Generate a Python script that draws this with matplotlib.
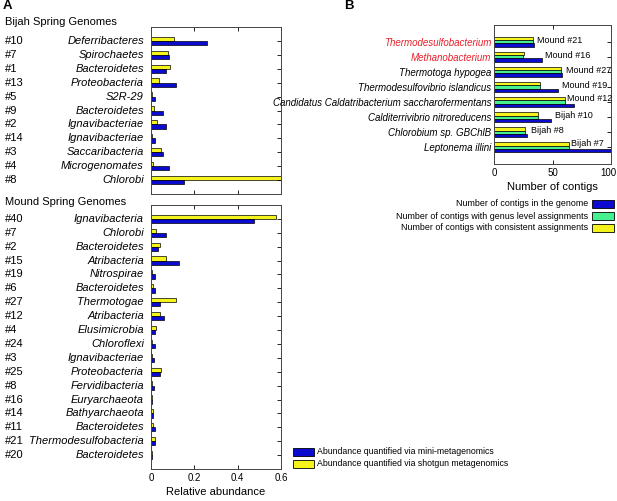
"""Abundance of spring genomes (A) and contig assignments (B)."""

import matplotlib

matplotlib.use("Agg")

import matplotlib.pyplot as plt
import matplotlib.transforms as mtransforms
import numpy as np
from matplotlib.patches import Rectangle

plt.rcParams["font.family"] = ["Liberation Sans", "DejaVu Sans"]

# Panel A, Bijah Spring
bijah_ids = ["#10", "#7", "#1", "#13", "#5", "#9", "#2", "#14", "#3", "#4", "#8"]
bijah_taxa = ["Deferribacteres", "Spirochaetes", "Bacteroidetes", "Proteobacteria", "S2R-29",
              "Bacteroidetes", "Ignavibacteriae", "Ignavibacteriae", "Saccaribacteria",
              "Microgenomates", "Chlorobi"]
bijah_mini = [0.257, 0.085, 0.071, 0.115, 0.020, 0.057, 0.071, 0.020, 0.057, 0.085, 0.151]
bijah_shotgun = [0.105, 0.077, 0.089, 0.035, 0.003, 0.014, 0.026, 0.003, 0.045, 0.011, 0.600]

# Panel A, Mound Spring
mound_ids = ["#40", "#7", "#2", "#15", "#19", "#6", "#27", "#12", "#4", "#24", "#3", "#25",
             "#8", "#16", "#14", "#11", "#21", "#20"]
mound_taxa = ["Ignavibacteria", "Chlorobi", "Bacteroidetes", "Atribacteria", "Nitrospirae",
              "Bacteroidetes", "Thermotogae", "Atribacteria", "Elusimicrobia", "Chloroflexi",
              "Ignavibacteriae", "Proteobacteria", "Fervidibacteria", "Euryarchaeota",
              "Bathyarchaeota", "Bacteroidetes", "Thermodesulfobacteria", "Bacteroidetes"]
mound_mini = [0.474, 0.071, 0.030, 0.129, 0.018, 0.017, 0.040, 0.062, 0.018, 0.018, 0.012,
              0.040, 0.012, 0.006, 0.008, 0.017, 0.017, 0.006]
mound_shotgun = [0.577, 0.022, 0.040, 0.068, 0.003, 0.009, 0.114, 0.042, 0.022, 0.003, 0.003,
                 0.045, 0.003, 0.003, 0.008, 0.008, 0.017, 0.006]

# Panel B
ref_genomes = ["Thermodesulfobacterium", "Methanobacterium", "Thermotoga hypogea",
               "Thermodesulfovibrio islandicus", "Candidatus Caldatribacterium saccharofermentans",
               "Calditerrivibrio nitroreducens", "Chlorobium sp. GBChlB", "Leptonema illini"]
ref_bins = ["Mound #21", "Mound #16", "Mound #27", "Mound #19", "Mound #12", "Bijah #10",
            "Bijah #8", "Bijah #7"]
contigs_total = [34, 41, 58.5, 55, 68, 49, 28.5, 100]
contigs_genus = [33.5, 25, 57, 39.5, 61, 38, 26.5, 64.5]
contigs_consistent = [33.5, 25.5, 57, 39.5, 61, 38, 26.5, 64.5]
red_names = ["Thermodesulfobacterium", "Methanobacterium"]

BLUE = "#0b0bd0"
YELLOW = "#f4f41c"
GREEN = "#46f08e"
RED = "#e8202a"

W, H = 617, 501
fig = plt.figure(figsize=(W / 100, H / 100), dpi=100)


def px_axes(left, top, right, bottom):
    return fig.add_axes([left / W, 1 - bottom / H, (right - left) / W, (bottom - top) / H])


def style(ax):
    ax.tick_params(direction="in", length=3, width=0.6, top=True, right=True, left=False,
                   labelsize=7, pad=3)
    for s in ax.spines.values():
        s.set_linewidth(0.7)
        s.set_color("#444444")


def abundance_panel(ax, ids, taxa, mini, shotgun, show_x):
    y = np.arange(len(ids))
    h = 0.3
    ax.barh(y - h / 2, shotgun, height=h, color=YELLOW, edgecolor="black", linewidth=0.5)
    ax.barh(y + h / 2, mini, height=h, color=BLUE, edgecolor="black", linewidth=0.5)
    ax.set_xlim(0, 0.6)
    ax.set_ylim(len(ids), -1)
    ax.set_xticks([0, 0.2, 0.4, 0.6])
    ax.set_yticks(y)
    ax.set_yticklabels([])
    style(ax)
    if show_x:
        ax.set_xticklabels(["0", "0.2", "0.4", "0.6"])
    else:
        ax.set_xticklabels([])
    for yi, pid, name in zip(y, ids, taxa):
        ax.annotate(pid, xy=(5 / W, yi), xycoords=("figure fraction", "data"),
                    fontsize=8, va="center", ha="left")
        ax.annotate(name, xy=(144 / W, yi), xycoords=("figure fraction", "data"),
                    fontsize=8, va="center", ha="right", style="italic")


ax_b = px_axes(151, 27, 281, 194)
abundance_panel(ax_b, bijah_ids, bijah_taxa, bijah_mini, bijah_shotgun, False)

ax_m = px_axes(151, 205, 281, 469)
abundance_panel(ax_m, mound_ids, mound_taxa, mound_mini, mound_shotgun, True)
ax_m.set_xlabel("Relative abundance", fontsize=8, labelpad=3)

fig.text(3 / W, 1 - 6 / H, "A", fontsize=9.5, fontweight="bold", va="center", ha="left")
fig.text(5 / W, 1 - 22 / H, "Bijah Spring Genomes", fontsize=8, va="center", ha="left")
fig.text(5 / W, 1 - 202 / H, "Mound Spring Genomes", fontsize=8, va="center", ha="left")

# legend A
for row, (col, lab) in enumerate([(BLUE, "Abundance quantified via mini-metagenomics"),
                                   (YELLOW, "Abundance quantified via shotgun metagenomics")]):
    yc = 452 + row * 11.5
    fig.patches.append(Rectangle((293 / W, 1 - (yc + 4) / H), 21 / W, 8 / H, facecolor=col,
                                 edgecolor="black", linewidth=0.6, transform=fig.transFigure))
    fig.text(317 / W, 1 - yc / H, lab, fontsize=6.3, va="center", ha="left")

# Panel B
ax_c = px_axes(494, 25, 611, 164)
y = np.arange(len(ref_genomes))
h = 0.22
ax_c.barh(y - h, contigs_consistent, height=h, color=YELLOW, edgecolor="black", linewidth=0.5)
ax_c.barh(y, contigs_genus, height=h, color=GREEN, edgecolor="black", linewidth=0.5)
ax_c.barh(y + h, contigs_total, height=h, color=BLUE, edgecolor="black", linewidth=0.5)
ax_c.set_xlim(0, 100)
ax_c.set_ylim(len(ref_genomes) + 0.1, -1.1)
ax_c.set_xticks([0, 50, 100])
ax_c.set_yticks(y)
ax_c.set_yticklabels(ref_genomes, fontsize=6.1, style="italic")
style(ax_c)
ax_c.tick_params(axis="y", labelleft=True, pad=2)
ax_c.tick_params(axis="x", labelsize=7)
for lab in ax_c.get_yticklabels():
    if lab.get_text() in red_names:
        lab.set_color(RED)
# keep the last tick label inside the canvas
last = ax_c.get_xticklabels()[-1]
last.set_transform(last.get_transform() + mtransforms.ScaledTranslation(-3 / 100, 0, fig.dpi_scale_trans))
ax_c.set_xlabel("Number of contigs", fontsize=8, labelpad=3)
for yi, tag, tot, cons in zip(y, ref_bins, contigs_total, contigs_consistent):
    if tot >= 65:
        ax_c.text(cons + 1.5, yi - 0.25, tag, fontsize=6.5, va="center", ha="left")
    else:
        ax_c.text(tot + 3, yi - 0.1, tag, fontsize=6.5, va="center", ha="left")

fig.text(344 / W, 1 - 6 / H, "B", fontsize=9.5, fontweight="bold", va="center", ha="left")

# legend B
for row, (col, lab) in enumerate([(BLUE, "Number of contigs in the genome"),
                                   (GREEN, "Number of contigs with genus level assignments"),
                                   (YELLOW, "Number of contigs with consistent assignments")]):
    yc = 204 + row * 12
    fig.patches.append(Rectangle((592 / W, 1 - (yc + 4) / H), 22 / W, 8 / H, facecolor=col,
                                 edgecolor="black", linewidth=0.6, transform=fig.transFigure))
    fig.text(588 / W, 1 - yc / H, lab, fontsize=6.4, va="center", ha="right")

fig.savefig("out.png", dpi=100)
